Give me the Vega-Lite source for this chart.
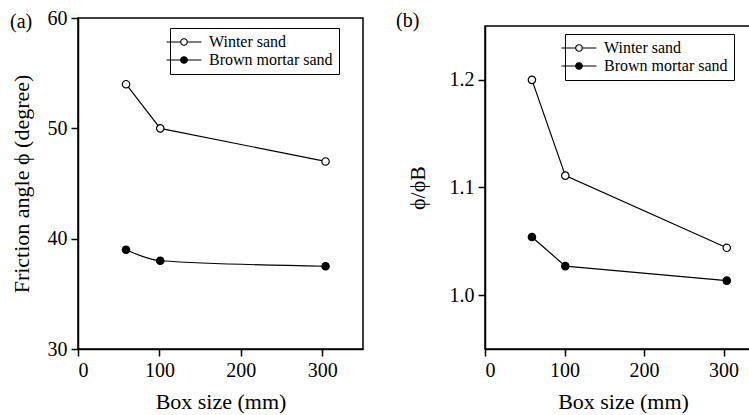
{
  "$schema": "https://vega.github.io/schema/vega-lite/v6.json",
  "padding": {"left": 9, "top": 7, "right": 0, "bottom": 0},
  "background": "white",
  "datasets": {
    "a": [
      {"size": 59, "value": 54, "series": "Winter sand"},
      {"size": 101, "value": 50, "series": "Winter sand"},
      {"size": 304, "value": 47, "series": "Winter sand"},
      {"size": 59, "value": 39, "series": "Brown mortar sand"},
      {"size": 101, "value": 38, "series": "Brown mortar sand"},
      {"size": 304, "value": 37.5, "series": "Brown mortar sand"}
    ],
    "b": [
      {"size": 59, "value": 1.2, "series": "Winter sand"},
      {"size": 101, "value": 1.111, "series": "Winter sand"},
      {"size": 304, "value": 1.044, "series": "Winter sand"},
      {"size": 59, "value": 1.054, "series": "Brown mortar sand"},
      {"size": 101, "value": 1.027, "series": "Brown mortar sand"},
      {"size": 304, "value": 1.0135, "series": "Brown mortar sand"}
    ]
  },
  "config": {
    "font": "Liberation Serif",
    "view": {"stroke": "black", "strokeWidth": 1.5},
    "axis": {
      "grid": false,
      "labelFont": "Liberation Serif",
      "titleFont": "Liberation Serif",
      "labelFontSize": 20,
      "titleFontSize": 22,
      "titleFontWeight": "normal",
      "labelColor": "black",
      "titleColor": "black",
      "domainColor": "black",
      "domainWidth": 1.5,
      "tickColor": "black",
      "tickWidth": 1.5,
      "tickSize": 7,
      "labelPadding": 4
    },
    "title": {"font": "Liberation Serif", "fontSize": 20, "fontWeight": "normal", "color": "black", "anchor": "start", "frame": "bounds"}
  },
  "hconcat": [
    {
      "width": 285,
      "height": 331,
      "title": {"text": "(a)", "offset": -24},
      "data": {"name": "a"},
      "encoding": {
        "x": {"field": "size", "type": "quantitative", "scale": {"domain": [0, 350], "nice": false},
              "axis": {"values": [0, 100, 200, 300], "title": "Box size (mm)", "titlePadding": 11}},
        "y": {"field": "value", "type": "quantitative", "scale": {"domain": [30, 60], "nice": false, "zero": false},
              "axis": {"values": [30, 40, 50, 60], "title": "Friction angle ϕ (degree)", "titlePadding": 14}}
      },
      "layer": [
        {"transform": [{"filter": "datum.series == 'Winter sand'"}],
         "mark": {"type": "line", "color": "black", "strokeWidth": 1.2}},
        {"transform": [{"filter": "datum.series == 'Brown mortar sand'"}],
         "mark": {"type": "line", "color": "black", "strokeWidth": 1.2, "interpolate": "monotone"}},
        {"mark": {"type": "point", "filled": false, "stroke": "black", "strokeWidth": 1.2, "size": 55, "opacity": 1},
         "encoding": {
           "fill": {"field": "series", "type": "nominal",
                    "scale": {"domain": ["Winter sand", "Brown mortar sand"], "range": ["white", "black"]},
                    "legend": {"orient": "none", "legendX": 92, "legendY": 10, "title": null,
                               "strokeColor": "black", "fillColor": "white", "padding": 6,
                               "labelFont": "Liberation Serif", "labelFontSize": 16, "labelColor": "black",
                               "labelOffset": 17, "rowPadding": 2,
                               "symbolType": "M-3.5,0H-0.65M0.65,0H3.5M0.65,0A0.65,0.65,0,1,1,-0.65,0A0.65,0.65,0,1,1,0.65,0Z",
                               "symbolSize": 100, "symbolStrokeColor": "black", "symbolStrokeWidth": 1.2}}
         }}
      ]
    },
    {
      "bounds": "flush",
      "spacing": 0,
      "vconcat": [
        {
          "width": 268,
          "height": 8,
          "view": {"stroke": null},
          "data": {"values": []},
          "mark": "point"
        },
        {
          "width": 268,
          "height": 323,
          "title": {"text": "(b)", "offset": -5, "dx": -10},
          "data": {"name": "b"},
          "encoding": {
            "x": {"field": "size", "type": "quantitative", "scale": {"domain": [0, 337], "nice": false},
                  "axis": {"values": [0, 100, 200, 300], "title": "Box size (mm)", "titlePadding": 11, "titleX": 138}},
            "y": {"field": "value", "type": "quantitative", "scale": {"domain": [0.95, 1.25], "nice": false, "zero": false},
                  "axis": {"values": [1.0, 1.1, 1.2], "format": ".1f", "title": "ϕ/ϕB", "titlePadding": 20}}
          },
          "layer": [
            {"mark": {"type": "line", "color": "black", "strokeWidth": 1.2},
             "encoding": {"detail": {"field": "series", "type": "nominal"}}},
            {"mark": {"type": "point", "filled": false, "stroke": "black", "strokeWidth": 1.2, "size": 55, "opacity": 1},
             "encoding": {
               "fill": {"field": "series", "type": "nominal",
                        "scale": {"domain": ["Winter sand", "Brown mortar sand"], "range": ["white", "black"]},
                        "legend": {"orient": "none", "legendX": 80, "legendY": 16, "title": null,
                                   "strokeColor": "black", "fillColor": "white", "padding": 6,
                                   "labelFont": "Liberation Serif", "labelFontSize": 16, "labelColor": "black",
                                   "labelOffset": 17, "rowPadding": 2,
                                   "symbolType": "M-3.5,0H-0.65M0.65,0H3.5M0.65,0A0.65,0.65,0,1,1,-0.65,0A0.65,0.65,0,1,1,0.65,0Z",
                                   "symbolSize": 100, "symbolStrokeColor": "black", "symbolStrokeWidth": 1.2}}
             }}
          ]
        }
      ]
    }
  ],
  "spacing": 31,
  "resolve": {"scale": {"fill": "independent"}, "legend": {"fill": "independent"}}
}
